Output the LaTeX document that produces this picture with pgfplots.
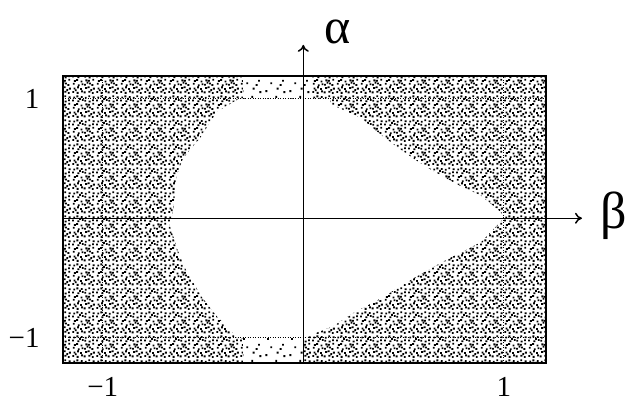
\documentclass[border=0pt]{standalone}
\usepackage{fontspec}
\setmainfont{Liberation Serif}
\usepackage{pgfplots}
\pgfplotsset{compat=1.18}
\usetikzlibrary{patterns,arrows.meta}

% speckled print texture for the filled part of the parameter plane
\pgfdeclarepatternformonly{speckle}{\pgfpointorigin}{\pgfqpoint{24pt}{24pt}}{\pgfqpoint{24pt}{24pt}}{%
  \foreach \px/\py in {
      0.3/1.1, 4.9/0.2, 9.5/1.8, 12.2/0.7, 17.1/1.4, 20.6/0.1,
      1.6/4.8, 5.2/5.9, 8.4/4.3, 13.7/5.2, 16.3/6.0, 21.8/4.6,
      0.8/9.7, 6.1/8.2, 9.9/9.1, 12.5/8.6, 17.8/9.9, 20.2/8.4,
      2.0/12.5, 4.4/13.6, 8.9/12.1, 14.0/13.2, 16.6/12.8, 21.1/13.9,
      0.1/17.3, 5.7/16.4, 10.3/17.8, 12.9/16.9, 17.4/16.2, 20.9/17.5,
      1.3/20.4, 4.6/21.5, 9.2/20.9, 13.4/20.1, 16.9/21.7, 21.5/20.6,
      2.9/2.9, 15.2/10.8, 7.3/18.9, 19.0/3.1}{%
    \pgfpathrectangle{\pgfqpoint{\px pt}{\py pt}}{\pgfqpoint{1.9pt}{1.9pt}}}%
  \pgfusepath{fill}}
\pgfdeclarepatternformonly{speckle sparse}{\pgfpointorigin}{\pgfqpoint{24pt}{24pt}}{\pgfqpoint{24pt}{24pt}}{%
  \foreach \px/\py in {1.5/2.0, 13.0/4.5, 6.5/10.0, 18.5/12.5, 20.0/1.0,
                       3.2/18.4, 11.7/20.6, 16.1/8.3}{%
    \pgfpathrectangle{\pgfqpoint{\px pt}{\py pt}}{\pgfqpoint{1.9pt}{1.9pt}}}%
  \pgfusepath{fill}}

\begin{document}
\begin{tikzpicture}
\path[use as bounding box] (0,0) rectangle (626pt,406pt);
\begin{axis}[
  at={(62.7pt,43pt)}, anchor=south west,
  x=200.5pt, y=119.6pt,
  xmin=-1.2, xmax=1.21, ymin=-1.21, ymax=1.19,
  clip=false,
  axis on top,
  axis line style={line width=1.6pt},
  xtick={-1,1}, ytick={-1,1},
  xticklabels={−1,1}, yticklabels={−1,1},
  major tick length=0pt,
  tick style={draw=none},
  grid=major,
  major grid style={line width=0.9pt, dash pattern=on 0.9pt off 1.6pt, black},
  tick label style={font=\fontsize{29}{34}\selectfont, inner sep=0pt},
  xticklabel style={anchor=north, yshift=-14pt},
  yticklabel style={anchor=east, xshift=-23pt},
]
% filled part of the plane
\addplot[draw=none, pattern=speckle] coordinates
  {(-1.2,-1.21) (1.21,-1.21) (1.21,1.19) (-1.2,1.19)} -- cycle;
% lighter strips above alpha = 1 and below alpha = -1
\addplot[draw=none, fill=white] coordinates
  {(-0.3,1.0) (0.04,1.0) (0.04,1.19) (-0.3,1.19)} -- cycle;
\addplot[draw=none, pattern=speckle sparse] coordinates
  {(-0.3,1.0) (0.04,1.0) (0.04,1.19) (-0.3,1.19)} -- cycle;
\addplot[draw=none, fill=white] coordinates
  {(-0.3,-1.21) (0.0,-1.21) (0.0,-1.0) (-0.3,-1.0)} -- cycle;
\addplot[draw=none, pattern=speckle sparse] coordinates
  {(-0.3,-1.21) (0.0,-1.21) (0.0,-1.0) (-0.3,-1.0)} -- cycle;
% empty region
\addplot[draw=none, fill=white] coordinates {
  (-0.32,1.0) (0.13,1.0) (0.14,0.95) (0.285,0.84) (0.385,0.70) (0.5,0.555)
  (0.62,0.42) (0.77,0.28) (0.885,0.19) (0.985,0.05) (1.0,0.0) (0.885,-0.2)
  (0.72,-0.34) (0.57,-0.48) (0.385,-0.67) (0.25,-0.79) (0.15,-0.9) (0.0,-1.0)
  (-0.33,-1.0) (-0.35,-0.96) (-0.43,-0.82) (-0.5,-0.67) (-0.58,-0.45)
  (-0.63,-0.25) (-0.665,-0.06) (-0.65,0.05) (-0.63,0.36) (-0.6,0.5)
  (-0.515,0.67) (-0.43,0.89)} -- cycle;
% coordinate axes
\draw[line width=1.5pt, -{To[length=7pt,width=11pt]}] (axis cs:-1.2,0) -- (axis cs:1.39,0);
\draw[line width=1.5pt, -{To[length=7pt,width=11pt]}] (axis cs:0,-1.21) -- (axis cs:0,1.45);
\node[font=\fontsize{50}{56}\selectfont] at (axis cs:0.17,1.56) {α};
\node[font=\fontsize{52}{58}\selectfont] at (axis cs:1.55,0.02) {β};
\end{axis}
\end{tikzpicture}
\end{document}
